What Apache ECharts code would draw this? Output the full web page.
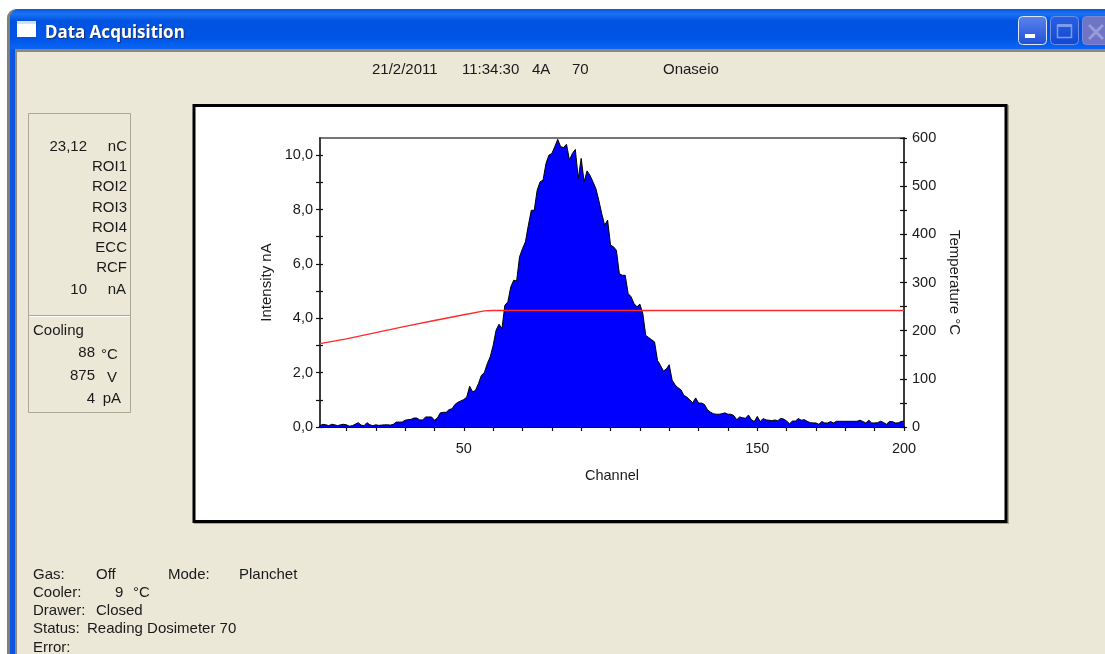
<!DOCTYPE html>
<html>
<head>
<meta charset="utf-8">
<style>html,body{margin:0;padding:0;background:#fff}#c{width:1105px;height:654px}</style>
<script src="https://cdn.jsdelivr.net/npm/echarts@6/dist/echarts.min.js"></script>
</head>
<body>
<div id="c"></div>
<script>
// Intensity (nA) for channels 1..200
const intensity = [
.05,.1,.08,.05,.1,.08,.05,.08,.1,.08,
.03,.05,.1,.16,.07,.05,.16,.08,.05,.08,
.06,.07,.08,.08,.07,.1,.18,.18,.18,.25,
.27,.28,.33,.33,.26,.26,.37,.37,.37,.25,
.33,.52,.54,.54,.64,.67,.83,.91,.96,1.01,
1.1,1.5,1.29,1.35,1.6,1.9,2.0,2.33,2.58,3.0,
3.56,3.78,3.62,4.48,4.6,5.15,5.4,5.37,6.26,6.56,
6.81,7.42,7.97,7.97,8.71,9.02,9.08,9.69,10.0,10.06,
10.31,10.58,10.31,10.28,10.4,9.82,10.06,10.21,9.14,9.88,
9.02,9.42,9.26,9.02,8.77,8.34,7.85,7.42,7.61,6.69,
6.63,6.5,5.64,5.58,5.58,4.91,4.79,4.54,4.42,4.52,
4.17,3.37,3.29,3.21,3.13,2.45,2.27,2.06,2.13,2.29,
1.72,1.55,1.44,1.37,1.16,1.1,1.0,.89,1.07,.88,
.88,.83,.64,.55,.49,.47,.47,.49,.52,.47,
.47,.42,.27,.37,.34,.32,.44,.27,.2,.39,
.2,.31,.26,.25,.23,.26,.23,.32,.29,.22,
.12,.22,.22,.31,.25,.27,.21,.16,.15,.15,
.1,.2,.15,.15,.2,.15,.21,.21,.21,.21,
.21,.21,.21,.21,.25,.2,.15,.25,.15,.15,
.16,.21,.17,.1,.2,.2,.15,.15,.2,.22];
// Temperature ramp (channel, degC)
const tempChannels = [1,10,20,30,40,50,57,60,100,150,200];
const tempValues   = [173,183,196,209,221,233,241,242,242,242,242];
// Axis ticks and labels
const channelTicks = [10,20,30,40,50,60,70,80,90,100,110,120,130,140,150,160,170,180,190,200];
const channelLabels = [50,150,200];
const intensityTicks = [0,1,2,3,4,5,6,7,8,9,10];
const intensityLabels = [0,2,4,6,8,10];
const temperatureTicks = [0,50,100,150,200,250,300,350,400,450,500,550,600];
const temperatureLabels = [0,100,200,300,400,500,600];

const FONT = '"Liberation Sans", Arial, sans-serif';
const INK = '#1a1a1a';
const els = [];
const rect = (x,y,w,h,fill,r=0) => els.push({type:'rect',shape:{x,y,width:w,height:h,r},style:{fill},silent:true,z:-10});
const text = (t,x,y,align='left',size=15,fill=INK,weight='normal',font=FONT) => els.push({type:'text',x,y:y+2,silent:true,z:-9,style:{text:t,fill,font:`${weight} ${size}px ${font}`,textAlign:align,textVerticalAlign:'middle'}});
const vgrad = stops => ({type:'linear',x:0,y:0,x2:0,y2:1,colorStops:stops.map(c=>({offset:c[0],color:c[1]}))});

// window frame
rect(0,0,1105,654,'#ffffff');
rect(7,9,1098,645,'#808076',[9,0,0,0]);
rect(10,9,1095,645,'#0b55e0',[9,0,0,0]);
rect(15,49,1090,605,'#ebe8d8');
rect(15,49,1090,3,'#8f8a78');
rect(15,49,2,605,'#8f8a78');
rect(10,9,1095,40,vgrad([[0,'#0a58d8'],[0.12,'#1a72f4'],[0.3,'#0053e0'],[0.75,'#0055e6'],[1,'#0a66f4']]),[9,0,0,0]);
// title icon + caption
rect(17,22,19,15,'#ffffff');
rect(17,21,19,3,'#cfe0fb');
text('Data Acquisition',46,32,'left',17,'#16307a','bold','"Noto Sans", sans-serif');
text('Data Acquisition',45,31,'left',17,'#ffffff','bold','"Noto Sans", sans-serif');
// caption buttons
els.push({type:'rect',shape:{x:1018.5,y:16.5,width:28,height:28,r:4},style:{fill:vgrad([[0,'#5d84ea'],[1,'#1f4fd8']]),stroke:'#dfe8fb',lineWidth:1},silent:true,z:-10});
rect(1025,34,10,4,'#ffffff');
els.push({type:'rect',shape:{x:1050.5,y:16.5,width:28,height:28,r:4},style:{fill:vgrad([[0,'#2a60e0'],[1,'#1148d4']]),stroke:'#6d8fe6',lineWidth:1},silent:true,z:-10});
els.push({type:'rect',shape:{x:1057.5,y:25.5,width:14,height:12},style:{fill:'none',stroke:'#7f9cea',lineWidth:1.5},silent:true,z:-10});
rect(1057,24,15,3,'#7f9cea');
els.push({type:'rect',shape:{x:1082.5,y:16.5,width:30,height:28,r:4},style:{fill:'#6e74c6',stroke:'#7f86d8',lineWidth:1},silent:true,z:-10});
els.push({type:'line',shape:{x1:1089,y1:25,x2:1103,y2:39},style:{stroke:'#989dd8',lineWidth:3},silent:true,z:-9});
els.push({type:'line',shape:{x1:1103,y1:25,x2:1089,y2:39},style:{stroke:'#989dd8',lineWidth:3},silent:true,z:-9});

// header
text('21/2/2011',372,68);
text('11:34:30',462,68);
text('4A',532,68);
text('70',572,68);
text('Onaseio',663,68);

// left readout panel
els.push({type:'rect',shape:{x:28.5,y:113.5,width:102,height:299},style:{fill:'#ebe8d8',stroke:'#aca899',lineWidth:1},silent:true,z:-10});
rect(29,315,101,1,'#aca899');
rect(29,316,101,1,'#ffffff');
text('23,12',87,145,'right');
text('nC',127,145,'right');
text('ROI1',127,165,'right');
text('ROI2',127,185,'right');
text('ROI3',127,206,'right');
text('ROI4',127,226,'right');
text('ECC',127,246,'right');
text('RCF',127,266,'right');
text('10',87,288,'right');
text('nA',126,288,'right');
text('Cooling',33,329);
text('88',95,351,'right');
text('°C',101,353);
text('875',95,374,'right');
text('V',107,376);
text('4',95,397,'right');
text('pA',121,397,'right');

// bottom status
text('Gas:',33,573);
text('Off',96,573);
text('Mode:',168,573);
text('Planchet',239,573);
text('Cooler:',33,591);
text('9',115,591);
text('°C',133,591);
text('Drawer:',33,609);
text('Closed',96,609);
text('Status:',33,627);
text('Reading Dosimeter 70',87,627);
text('Error:',33,646);

// chart panel
rect(194,105,815,419,'#a8a698');
els.push({type:'rect',shape:{x:194,y:105.5,width:812,height:416},style:{fill:'#ffffff',stroke:'#000000',lineWidth:3},silent:true,z:-10});

const labelStyle = {color:INK,fontFamily:FONT,fontSize:14.5};
const nameStyle = {color:INK,fontFamily:FONT,fontSize:15};
const crossTick = {show:true,length:7,lineStyle:{color:'#111',width:1.2}};
const L_MAX = 10.63;

const option = {
  animation:false,
  graphic:{z:-5,elements:els},
  grid:{left:320,top:138,width:584,height:289,show:true,backgroundColor:'transparent',borderColor:'#4a4a4a',borderWidth:1.5,containLabel:false},
  xAxis:{type:'value',min:1,max:200,
    axisLine:{show:true,onZero:false,lineStyle:{color:'#000',width:2}},
    axisTick:{show:true,length:4,customValues:channelTicks,lineStyle:{color:'#111',width:1.2}},
    splitLine:{show:false},
    axisLabel:Object.assign({},labelStyle,{margin:14,customValues:channelLabels}),
    name:'Channel',nameLocation:'middle',nameGap:41,nameTextStyle:{color:INK,fontFamily:FONT,fontSize:14.5}},
  yAxis:[
    {type:'value',min:0,max:L_MAX,position:'left',
      axisLine:{show:true,lineStyle:{color:'#3c3c3c',width:2}},axisTick:{show:false},splitLine:{show:false},
      axisLabel:Object.assign({},labelStyle,{margin:7,customValues:intensityLabels,formatter:v=>v.toFixed(1).replace('.',',')}),
      name:'Intensity nA',nameLocation:'middle',nameGap:46,nameRotate:90,nameTextStyle:nameStyle},
    {type:'value',min:0,max:600,position:'right',
      axisLine:{show:true,lineStyle:{color:'#3c3c3c',width:2}},axisTick:{show:false},splitLine:{show:false},
      axisLabel:Object.assign({},labelStyle,{margin:8,customValues:temperatureLabels}),
      name:'Temperature °C',nameLocation:'middle',nameGap:38,nameRotate:-90,nameTextStyle:nameStyle},
    {type:'value',min:0,max:L_MAX,position:'left',offset:-3,axisLine:{show:false},
      axisTick:Object.assign({},crossTick,{customValues:intensityTicks}),splitLine:{show:false},axisLabel:{show:false}},
    {type:'value',min:0,max:600,position:'right',offset:-4,axisLine:{show:false},
      axisTick:Object.assign({},crossTick,{customValues:temperatureTicks}),splitLine:{show:false},axisLabel:{show:false}}
  ],
  series:[
    {name:'Intensity',type:'line',yAxisIndex:0,showSymbol:false,symbol:'none',clip:true,z:3,
      lineStyle:{color:'#000',width:1},areaStyle:{color:'#0000ff',opacity:1},
      data:intensity.map((v,i)=>[i+1,v])},
    {name:'Temperature',type:'line',yAxisIndex:1,showSymbol:false,symbol:'none',z:4,
      lineStyle:{color:'#ff2a2a',width:1.4},
      data:tempChannels.map((c,i)=>[c,tempValues[i]])}
  ]
};
const chart = echarts.init(document.getElementById('c'),null,{renderer:'canvas',width:1105,height:654});
chart.setOption(option);
</script>
</body>
</html>
